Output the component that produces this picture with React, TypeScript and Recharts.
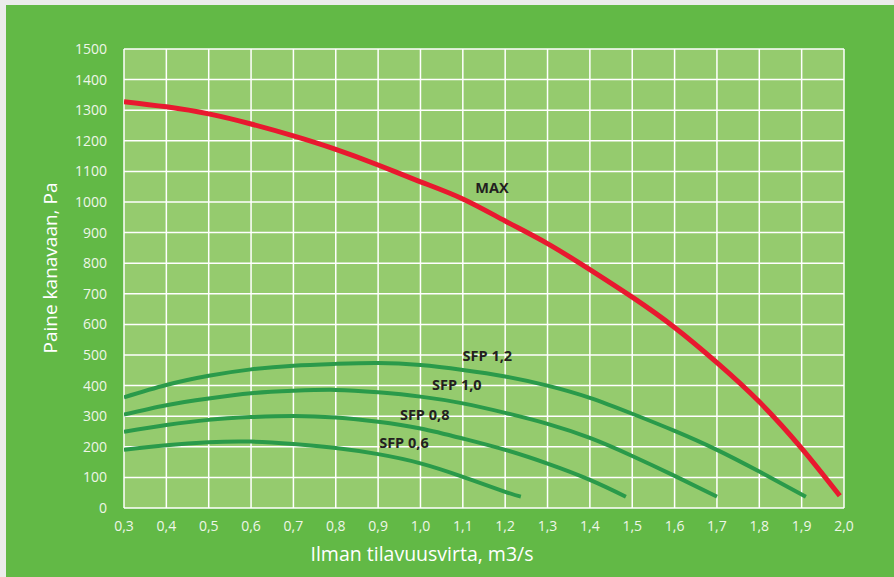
import React from 'react';
import {
  LineChart,
  Line,
  XAxis,
  YAxis,
  CartesianGrid,
  ReferenceDot,
} from 'recharts';

// Airflow (m3/s) vs. duct pressure (Pa)
const maxFlow = [0.3, 0.4, 0.5, 0.6, 0.7, 0.8, 0.9, 1.0, 1.1, 1.2, 1.3, 1.4, 1.5, 1.6, 1.7, 1.8, 1.9, 1.99];
const maxPressure = [1328, 1311, 1288, 1255, 1216, 1172, 1121, 1066, 1010, 938, 864, 779, 689, 590, 475, 347, 195, 40];

const sfp12Flow = [0.3, 0.4, 0.5, 0.6, 0.7, 0.8, 0.9, 1.0, 1.1, 1.2, 1.3, 1.4, 1.5, 1.6, 1.7, 1.8, 1.91];
const sfp12Pressure = [362, 402, 432, 453, 465, 471, 474, 467, 451, 430, 400, 360, 308, 252, 190, 119, 37];

const sfp10Flow = [0.3, 0.4, 0.5, 0.6, 0.7, 0.8, 0.9, 1.0, 1.1, 1.2, 1.3, 1.4, 1.5, 1.6, 1.7];
const sfp10Pressure = [305, 336, 358, 375, 383, 386, 378, 364, 342, 311, 275, 229, 170, 105, 37];

const sfp08Flow = [0.3, 0.4, 0.5, 0.6, 0.7, 0.8, 0.9, 1.0, 1.1, 1.2, 1.3, 1.4, 1.485];
const sfp08Pressure = [249, 271, 288, 297, 301, 296, 282, 260, 227, 190, 145, 92, 37];

const sfp06Flow = [0.3, 0.4, 0.5, 0.6, 0.7, 0.8, 0.9, 1.0, 1.1, 1.2, 1.237];
const sfp06Pressure = [190, 205, 215, 217, 209, 196, 176, 146, 102, 53, 37];

const xTicks = [0.3, 0.4, 0.5, 0.6, 0.7, 0.8, 0.9, 1.0, 1.1, 1.2, 1.3, 1.4, 1.5, 1.6, 1.7, 1.8, 1.9, 2.0];
const yTicks = [0, 100, 200, 300, 400, 500, 600, 700, 800, 900, 1000, 1100, 1200, 1300, 1400, 1500];

const curveLabels = [
  { text: 'MAX', x: 1.169, y: 1046 },
  { text: 'SFP 1,2', x: 1.158, y: 498 },
  { text: 'SFP 1,0', x: 1.086, y: 404 },
  { text: 'SFP 0,8', x: 1.01, y: 306 },
  { text: 'SFP 0,6', x: 0.961, y: 213 },
];

const zip = (xs: number[], ys: number[]) => xs.map((x, i) => ({ x, y: ys[i] }));

const FONT = '"Open Sans", "DejaVu Sans", sans-serif';

export default function App() {
  const tickStyle = { fill: '#EEF6E8', fontSize: 14, fontFamily: FONT };
  return (
    <div style={{ position: 'fixed', left: 0, top: 0, width: 894, height: 577, background: '#EBECEB' }}>
      <div style={{ position: 'absolute', left: 6, top: 5, width: 888, height: 572, background: '#62B946' }}>
        <LineChart width={888} height={572} margin={{ top: 44, right: 50, bottom: 39, left: 58 }}>
          <CartesianGrid stroke="#FFFFFF" strokeWidth={1.5} fill="#95CB6E" fillOpacity={1} />
          <XAxis
            type="number"
            dataKey="x"
            domain={[0.3, 2.0]}
            ticks={xTicks}
            allowDataOverflow
            height={30}
            axisLine={false}
            tickLine={false}
            tickSize={0}
            tickMargin={13}
            tick={tickStyle}
            tickFormatter={(v) => v.toFixed(1).replace('.', ',')}
          />
          <YAxis
            type="number"
            dataKey="y"
            domain={[0, 1500]}
            ticks={yTicks}
            width={60}
            axisLine={false}
            tickLine={false}
            tickSize={0}
            tickMargin={17}
            tick={tickStyle}
          />
          <Line data={zip(sfp12Flow, sfp12Pressure)} dataKey="y" type="natural" stroke="#2A9A4A" strokeWidth={4} dot={false} isAnimationActive={false} />
          <Line data={zip(sfp10Flow, sfp10Pressure)} dataKey="y" type="natural" stroke="#2A9A4A" strokeWidth={4} dot={false} isAnimationActive={false} />
          <Line data={zip(sfp08Flow, sfp08Pressure)} dataKey="y" type="natural" stroke="#2A9A4A" strokeWidth={4} dot={false} isAnimationActive={false} />
          <Line data={zip(sfp06Flow, sfp06Pressure)} dataKey="y" type="natural" stroke="#2A9A4A" strokeWidth={4} dot={false} isAnimationActive={false} />
          <Line data={zip(maxFlow, maxPressure)} dataKey="y" type="natural" stroke="#E8192F" strokeWidth={5} dot={false} isAnimationActive={false} />
          {curveLabels.map((l) => (
            <ReferenceDot
              key={l.text}
              x={l.x}
              y={l.y}
              r={0}
              fill="none"
              stroke="none"
              label={{ value: l.text, position: 'center', fill: '#231F20', fontSize: 14.5, fontWeight: 700, fontFamily: FONT }}
            />
          ))}
        </LineChart>
        <div
          style={{
            position: 'absolute',
            left: 44,
            top: 263,
            transform: 'translate(-50%, -50%) rotate(-90deg)',
            whiteSpace: 'nowrap',
            color: '#FFFFFF',
            fontSize: 19,
            fontFamily: FONT,
          }}
        >
          Paine kanavaan, Pa
        </div>
        <div
          style={{
            position: 'absolute',
            left: 416,
            top: 548,
            transform: 'translate(-50%, -50%)',
            whiteSpace: 'nowrap',
            color: '#FFFFFF',
            fontSize: 19.5,
            fontFamily: FONT,
          }}
        >
          Ilman tilavuusvirta, m3/s
        </div>
      </div>
    </div>
  );
}
